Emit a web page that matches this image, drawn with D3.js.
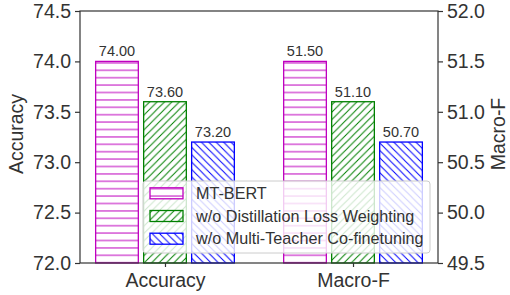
<!DOCTYPE html>
<html><head><meta charset="utf-8">
<script src="https://cdn.jsdelivr.net/npm/d3@7"></script>
<style>body{margin:0;background:#fff}svg{display:block}text{font-family:"Liberation Sans",Arial,sans-serif}</style>
</head><body>
<script>
const categories = ["Accuracy", "Macro-F"];
const seriesNames = ["MT-BERT", "w/o Distillation Loss Weighting", "w/o Multi-Teacher Co-finetuning"];
const mtBert = [74.00, 51.50];
const woDistillation = [73.60, 51.10];
const woMultiTeacher = [73.20, 50.70];
const leftTicks = [72.0, 72.5, 73.0, 73.5, 74.0, 74.5];
const rightTicks = [49.5, 50.0, 50.5, 51.0, 51.5, 52.0];
const seriesColors = ["#bf00bf", "#008000", "#0000ff"];
const seriesHatch = ["h", "f", "b"];

const W = 510, H = 295;
const L = 80, R = 438, T = 11, B = 263;
const svg = d3.select("body").append("svg").attr("width", W).attr("height", H);
const defs = svg.append("defs");
const S = 7.4;
seriesHatch.forEach((h, i) => {
  const p = defs.append("pattern").attr("id", "hatch" + i)
    .attr("patternUnits", "userSpaceOnUse").attr("width", S).attr("height", S);
  p.append("rect").attr("width", S).attr("height", S).attr("fill", "#fff");
  let d;
  if (h === "h") d = `M0,${S/2} L${S},${S/2}`;
  else if (h === "f") d = `M0,${S} L${S},0 M${-S/2},${S/2} L${S/2},${-S/2} M${S/2},${S*1.5} L${S*1.5},${S/2}`;
  else d = `M0,0 L${S},${S} M${-S/2},${S/2} L${S/2},${S*1.5} M${S/2},${-S/2} L${S*1.5},${S/2}`;
  p.append("path").attr("d", d).attr("stroke", seriesColors[i]).attr("stroke-width", 1).attr("fill", "none");
});

const x = d3.scaleLinear().domain([-0.452, 1.452]).range([L, R]);
const yL = d3.scaleLinear().domain([72.0, 74.5]).range([B, T]);
const yR = d3.scaleLinear().domain([49.5, 52.0]).range([B, T]);
const scales = [yL, yR];
const series = [mtBert, woDistillation, woMultiTeacher];
const offset = 0.2553, bw = 0.227;
const textColor = "#333";

const g = svg.append("g");
series.forEach((vals, si) => {
  vals.forEach((v, ci) => {
    const y = scales[ci];
    const cx = x(ci + (si - 1) * offset);
    const w = x(bw) - x(0);
    g.append("rect").attr("x", cx - w/2).attr("y", y(v)).attr("width", w).attr("height", y.range()[0] - y(v))
      .attr("fill", `url(#hatch${si})`).attr("stroke", seriesColors[si]).attr("stroke-width", 1.3);
    g.append("text").attr("x", cx).attr("y", y(v) - 5).attr("text-anchor", "middle")
      .attr("font-size", 14.5).attr("fill", textColor).text(v.toFixed(2));
  });
});

// frame
svg.append("rect").attr("x", L).attr("y", T).attr("width", R - L).attr("height", B - T)
  .attr("fill", "none").attr("stroke", "#333").attr("stroke-width", 1.2);

const axL = svg.append("g").attr("transform", `translate(${L},0)`)
  .call(d3.axisLeft(yL).tickValues(leftTicks).tickFormat(d3.format(".1f")).tickSize(5).tickPadding(4));
const axR = svg.append("g").attr("transform", `translate(${R},0)`)
  .call(d3.axisRight(yR).tickValues(rightTicks).tickFormat(d3.format(".1f")).tickSize(5).tickPadding(4));
const axB = svg.append("g").attr("transform", `translate(0,${B})`)
  .call(d3.axisBottom(x).tickValues([0, 1]).tickFormat((d) => categories[d]).tickSize(4).tickPadding(6));
[axL, axR, axB].forEach(a => {
  a.select(".domain").remove();
  a.selectAll("line").attr("stroke", "#333").attr("stroke-width", 1.2);
  a.selectAll("text").attr("font-size", 19.5).attr("fill", textColor).attr("font-family", '"Liberation Sans",Arial,sans-serif');
});

svg.append("text").attr("transform", `translate(23,134) rotate(-90)`).attr("text-anchor", "middle")
  .attr("font-size", 19.5).attr("fill", textColor).text("Accuracy");
svg.append("text").attr("transform", `translate(505,134) rotate(-90)`).attr("text-anchor", "middle")
  .attr("font-size", 19.5).attr("fill", textColor).text("Macro-F");

// legend
const lg = svg.append("g");
lg.append("rect").attr("x", 143).attr("y", 181).attr("width", 287).attr("height", 72).attr("rx", 3)
  .attr("fill", "#fff").attr("fill-opacity", 0.8).attr("stroke", "#ccc").attr("stroke-width", 1);
seriesNames.forEach((n, i) => {
  const cy = 193.3 + i * 22.7;
  lg.append("rect").attr("x", 150).attr("y", cy - 5.5).attr("width", 33).attr("height", 11)
    .attr("fill", `url(#hatch${i})`).attr("stroke", seriesColors[i]).attr("stroke-width", 1.3);
  lg.append("text").attr("x", 196).attr("y", cy).attr("dy", "0.35em").attr("font-size", 16.2)
    .attr("fill", textColor).text(n);
});
</script>
</body></html>
